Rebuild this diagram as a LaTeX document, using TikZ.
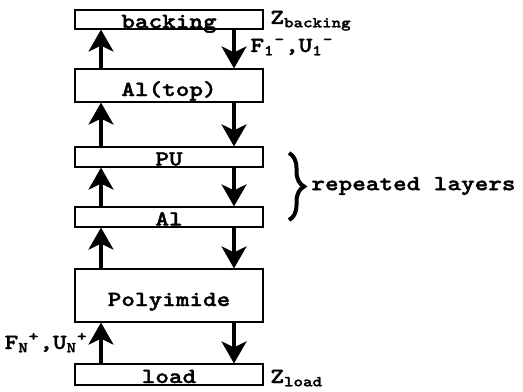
\documentclass[tikz,border=0pt]{standalone}
\usepackage{fontspec}
\setmonofont{lmmonolt10-bold.otf}[FakeStretch=1.2,FakeBold=1.6]
\usepackage{tikz}
\usetikzlibrary{arrows.meta,decorations.pathreplacing}

\begin{document}
\begin{tikzpicture}[x=0.5pt,y=-0.5pt,
  font=\ttfamily\fontsize{10.8}{13}\selectfont,
  layer/.style={draw,line width=0.6pt,minimum width=94pt,inner sep=0pt,text height=9pt,text depth=0.5pt},
  slab/.style={layer,text height=10.5pt,text depth=0pt},
  flow/.style={line width=1.6pt,-{Stealth[length=11pt,width=12.5pt,inset=3pt]}},
  lbl/.style={inner sep=0pt}]
\useasboundingbox (0,0) rectangle (523,391);
% the stack of layers
\node[layer,minimum height=9.5pt] (backing) at (169,19.5) {backing};
\node[slab,minimum height=16.5pt] (altop) at (169,85.5) {Al(top)};
\node[layer,minimum height=10pt] (pu) at (169,157) {PU};
\node[layer,minimum height=10pt] (al) at (169,217) {Al};
\node[slab,minimum height=26.5pt] (pi) at (169,295.5) {Polyimide};
\node[layer,minimum height=10.5pt] (load) at (169,374.5) {load};
% columns of the up and down waves
\coordinate (up) at (101,0);
\coordinate (dn) at (234,0);
\draw[flow] (altop.north -| up) -- (backing.south -| up);
\draw[flow] (pu.north -| up) -- (altop.south -| up);
\draw[flow] (al.north -| up) -- (pu.south -| up);
\draw[flow] (pi.north -| up) -- (al.south -| up);
\draw[flow] (load.north -| up) -- (pi.south -| up);
\draw[flow] (backing.south -| dn) -- (altop.north -| dn);
\draw[flow] (altop.south -| dn) -- (pu.north -| dn);
\draw[flow] (pu.south -| dn) -- (al.north -| dn);
\draw[flow] (al.south -| dn) -- (pi.north -| dn);
\draw[flow] (pi.south -| dn) -- (load.north -| dn);
% labels
\node[lbl,anchor=base west] (zb) at (270,24) {Z\textsubscript{backing}};
\node[lbl,anchor=base west] (fu1) at (250,52) {F\textsubscript{1}\textsuperscript{-},U\textsubscript{1}\textsuperscript{-}};
\node[lbl,anchor=base east] (fun) at (88,349) {F\textsubscript{N}\textsuperscript{+},U\textsubscript{N}\textsuperscript{+}};
\node[lbl,anchor=base west] (zl) at (270,383) {Z\textsubscript{load}};
% repeated pair
\draw[decorate,decoration={brace,amplitude=7.5pt},line width=2pt] (289,153) -- (289,220);
\node[lbl,anchor=west] (rep) at (311,186) {repeated layers};
\end{tikzpicture}
\end{document}
